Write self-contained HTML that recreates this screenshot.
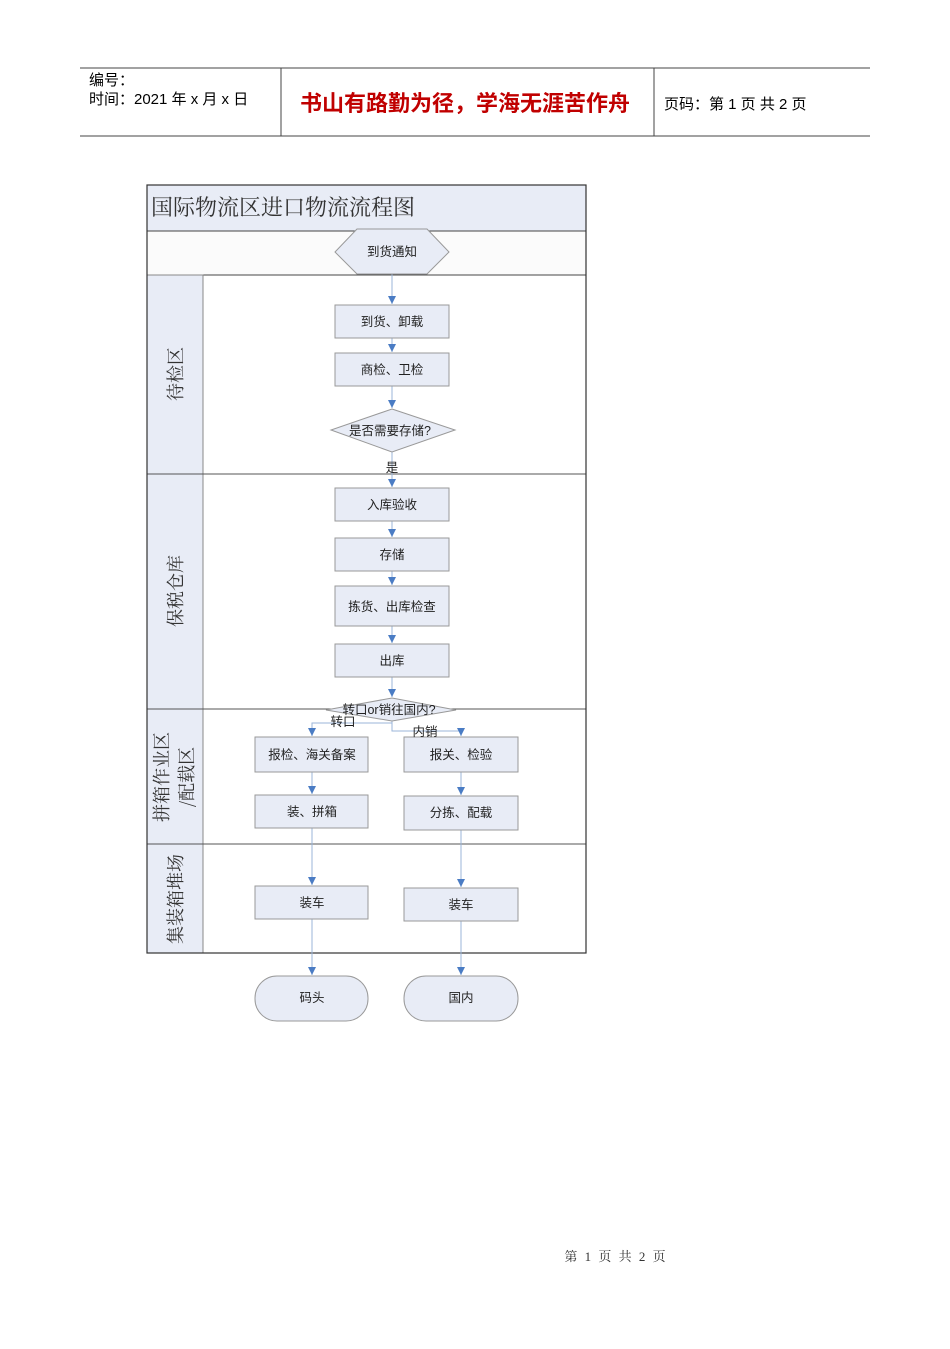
<!DOCTYPE html>
<html><head><meta charset="utf-8"><style>
body{margin:0;background:#fff;width:950px;height:1344px;overflow:hidden;font-family:"Liberation Sans","Noto Sans CJK SC",sans-serif}
</style></head><body>
<svg width="950" height="1344" xmlns="http://www.w3.org/2000/svg" font-family="Liberation Sans, Noto Sans CJK SC, sans-serif">
<defs><marker id="a" markerWidth="8" markerHeight="8" refX="8" refY="4" orient="auto" markerUnits="userSpaceOnUse"><path d="M0,0 L8,4 L0,8 z" fill="#4a7cc4"/></marker></defs>
<line x1="80" y1="68" x2="870" y2="68" stroke="#444"/>
<line x1="80" y1="136" x2="870" y2="136" stroke="#444"/>
<line x1="281" y1="68" x2="281" y2="136" stroke="#444"/>
<line x1="654" y1="68" x2="654" y2="136" stroke="#444"/>
<text x="89" y="85" font-size="15">编号：</text>
<text x="89" y="104" font-size="15">时间：2021 年 x 月 x 日</text>
<text x="300" y="111" font-size="22" fill="#c00000" font-weight="bold">书山有路勤为径，学海无涯苦作舟</text>
<text x="664" y="109" font-size="15">页码：第 1 页  共 2 页</text>
<rect x="147" y="185" width="439" height="46" fill="#e8ecf6" stroke="#888"/>
<text x="151" y="215" font-size="22" fill="#333" font-family="Noto Serif CJK SC, serif">国际物流区进口物流流程图</text>
<rect x="147" y="231" width="439" height="44" fill="#fbfbfb" stroke="#444"/>
<rect x="147" y="275" width="56" height="678" fill="#e8ecf6" stroke="#888"/>
<line x1="147" y1="474" x2="586" y2="474" stroke="#555"/>
<line x1="147" y1="709" x2="586" y2="709" stroke="#555"/>
<line x1="147" y1="844" x2="586" y2="844" stroke="#555"/>
<rect x="147" y="185" width="439" height="768" fill="none" stroke="#333" stroke-width="1.2"/>
<g font-size="18" fill="#333" font-family="Noto Serif CJK SC, serif">
<text transform="translate(182,374) rotate(-90)" text-anchor="middle">待检区</text>
<text transform="translate(182,591) rotate(-90)" text-anchor="middle">保税仓库</text>
<text transform="translate(168,777) rotate(-90)" text-anchor="middle">拼箱作业区</text>
<text transform="translate(193,777) rotate(-90)" text-anchor="middle">/配载区</text>
<text transform="translate(182,899) rotate(-90)" text-anchor="middle">集装箱堆场</text>
</g>
<g stroke="#9bb5da" stroke-width="1" fill="none" marker-end="url(#a)">
<line x1="392" y1="274" x2="392" y2="304"/>
<line x1="392" y1="338" x2="392" y2="352"/>
<line x1="392" y1="386" x2="392" y2="408"/>
<line x1="392" y1="452" x2="392" y2="487"/>
<line x1="392" y1="521" x2="392" y2="537"/>
<line x1="392" y1="571" x2="392" y2="585"/>
<line x1="392" y1="626" x2="392" y2="643"/>
<line x1="392" y1="677" x2="392" y2="697"/>
<polyline points="392,721 392,723 312,723 312,736"/>
<polyline points="392,721 392,731 461,731 461,736"/>
<line x1="312" y1="772" x2="312" y2="794"/>
<line x1="461" y1="772" x2="461" y2="795"/>
<line x1="312" y1="828" x2="312" y2="885"/>
<line x1="461" y1="830" x2="461" y2="887"/>
<line x1="312" y1="919" x2="312" y2="975"/>
<line x1="461" y1="921" x2="461" y2="975"/>
</g>
<g fill="#e8ecf6" stroke="#999">
<polygon points="357,229 427,229 449,252 427,274 357,274 335,252"/>
<rect x="335" y="305" width="114" height="33"/>
<rect x="335" y="353" width="114" height="33"/>
<polygon points="392,409 455,430 392,452 331,430"/>
<rect x="335" y="488" width="114" height="33"/>
<rect x="335" y="538" width="114" height="33"/>
<rect x="335" y="586" width="114" height="40"/>
<rect x="335" y="644" width="114" height="33"/>
<polygon points="392,698 456,710 392,721 326,710"/>
<rect x="255" y="737" width="113" height="35"/>
<rect x="404" y="737" width="114" height="35"/>
<rect x="255" y="795" width="113" height="33"/>
<rect x="404" y="796" width="114" height="34"/>
<rect x="255" y="886" width="113" height="33"/>
<rect x="404" y="888" width="114" height="33"/>
<rect x="255" y="976" width="113" height="45" rx="22"/>
<rect x="404" y="976" width="114" height="45" rx="22"/>
</g>
<g font-size="12.5" fill="#222" text-anchor="middle">
<text x="392" y="256">到货通知</text>
<text x="392" y="326">到货、卸载</text>
<text x="392" y="374">商检、卫检</text>
<text x="390" y="435">是否需要存储?</text>
<text x="392" y="472">是</text>
<text x="392" y="509">入库验收</text>
<text x="392" y="559">存储</text>
<text x="392" y="611">拣货、出库检查</text>
<text x="392" y="665">出库</text>
<text x="389" y="714">转口or销往国内?</text>
<text x="343" y="726">转口</text>
<text x="425" y="736">内销</text>
<text x="312" y="759">报检、海关备案</text>
<text x="461" y="759">报关、检验</text>
<text x="312" y="816">装、拼箱</text>
<text x="461" y="817">分拣、配载</text>
<text x="312" y="907">装车</text>
<text x="461" y="909">装车</text>
<text x="312" y="1002">码头</text>
<text x="461" y="1002">国内</text>
</g>
<text x="616" y="1261" font-size="13" fill="#333" text-anchor="middle" font-family="Liberation Serif, Noto Serif CJK SC, serif" letter-spacing="2">第 1 页 共 2 页</text>
</svg>
</body></html>
